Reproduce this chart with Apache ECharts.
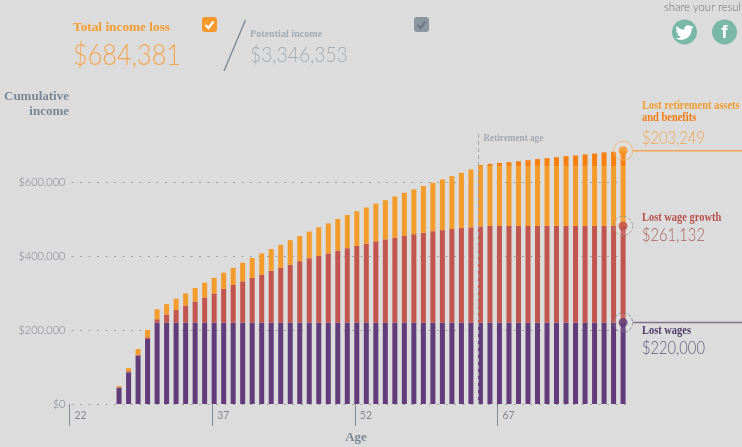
<!DOCTYPE html>
<html>
<head>
<meta charset="utf-8">
<style>
  html, body { margin: 0; padding: 0; background: #dcdcdc; overflow: hidden; }
  #chart { width: 742px; height: 447px; }
</style>
<script src="https://cdn.jsdelivr.net/npm/echarts@6/dist/echarts.min.js"></script>
</head>
<body>
<div id="chart"></div>
<script>
// ages 27 to 80, one bar per year
const ages = ['27','28','29','30','31','32','33','34','35','36','37','38','39','40','41','42','43','44','45','46','47','48','49','50','51','52','53','54','55','56','57','58','59','60','61','62','63','64','65','66','67','68','69','70','71','72','73','74','75','76','77','78','79','80'];
const axisAges = ['22','23','24','25','26', ...ages, '81'];
const ageTicks = [22, 37, 52, 67];
const retirementAge = 65;

const lostWages = [44000,85600,130600,175700,220000,220000,220000,220000,220000,220000,220000,220000,220000,220000,220000,220000,220000,220000,220000,220000,220000,220000,220000,220000,220000,220000,220000,220000,220000,220000,220000,220000,220000,220000,220000,220000,220000,220000,220000,220000,220000,220000,220000,220000,220000,220000,220000,220000,220000,220000,220000,220000,220000,220000];
const lostWageGrowth = [1000,3000,2700,4500,9000,22000,34000,46000,57000,68000,79000,91000,101600,111600,120500,130000,140000,147600,156500,166000,174000,180000,187000,194000,201000,207000,213000,220000,225000,229000,234000,239000,243000,247000,250000,253000,256000,257500,260000,261132,261132,261132,261132,261132,261132,261132,261132,261132,261132,261132,261132,261132,261132,261132];
const lostAssets = [3600,8400,15300,20000,27000,28000,30600,33000,36500,40000,42000,44000,46400,50400,54000,57000,59000,62400,66500,68000,72000,77500,81000,86000,90000,94000,98000,101500,106000,112000,117000,121000,126000,131000,137000,143000,149000,156500,163000,161868,161868,161868,161868,161868,161868,161868,161868,161868,161868,161868,161868,161868,161868,161868];
const lostBenefits = [0,0,0,0,0,0,0,0,0,0,0,0,0,0,0,0,0,0,0,0,0,0,0,0,0,0,0,0,0,0,0,0,0,0,0,0,0,0,3000,6000,8500,10500,13000,16000,19000,21500,24000,27000,28500,31500,34000,37000,38500,41381];
const markerValues = [220000, 481132, 684381];
const markerColors = ['#5f3a78', '#bd4f4a', '#f7941d'];
const ringColors = ['#77778a', '#9a8a8a', '#f3b26c'];

const lastAge = ages[ages.length - 1];
const serif = '"Liberation Serif", serif';
const light = 'Lato, sans-serif';

function barSeries(name, values, color) {
  return {
    name: name,
    type: 'bar',
    stack: 'loss',
    barWidth: 5,
    data: values.map((v, i) => [ages[i], v]),
    itemStyle: { color: color }
  };
}
function txt(text, x, y, font, fill, align, sx) {
  return {
    type: 'text',
    silent: true,
    x: x,
    y: y,
    scaleX: sx || 1,
    style: { text: text, font: font, fill: fill, textAlign: align || 'left', textVerticalAlign: 'middle' }
  };
}
function seg(x1, y1, x2, y2, color, width) {
  return { type: 'line', silent: true, shape: { x1: x1, y1: y1, x2: x2, y2: y2 }, style: { stroke: color, lineWidth: width } };
}
function checkbox(x, y, boxColor, checkColor) {
  return [
    { type: 'rect', silent: true, shape: { x: x, y: y, width: 15, height: 15, r: 3 }, style: { fill: boxColor } },
    { type: 'polyline', silent: true, shape: { points: [[x + 3.5, y + 8], [x + 6.5, y + 11], [x + 11.5, y + 4.5]] }, style: { stroke: checkColor, lineWidth: 2.4, fill: null } }
  ];
}

// twitter bird for the share button
echarts.graphic.registerShape('twitterBird', echarts.graphic.extendPath(
  'M 24 4.6 C 23.1 5 22.1 5.2 21.1 5.3 C 22.2 4.7 23 3.7 23.3 2.6 C 22.3 3.2 21.3 3.6 20.2 3.8 C 19.3 2.8 18 2.2 16.6 2.2 C 13.9 2.2 11.7 4.4 11.7 7.1 C 11.7 7.5 11.7 7.9 11.8 8.2 C 7.7 8 4.1 6.1 1.6 3.2 C 1.2 3.9 1 4.7 1 5.6 C 1 7.3 1.9 8.8 3.2 9.7 C 2.4 9.7 1.6 9.5 0.9 9.1 L 0.9 9.2 C 0.9 11.6 2.6 13.6 4.9 14 C 4.2 14.2 3.4 14.2 2.7 14.1 C 3.3 16.1 5.1 17.5 7.3 17.5 C 5.6 18.8 3.5 19.6 1.2 19.6 C 0.8 19.6 0.4 19.6 0 19.5 C 2.2 20.9 4.8 21.7 7.6 21.7 C 16.6 21.7 21.6 14.2 21.6 7.7 L 21.5 7.1 C 22.5 6.4 23.4 5.5 24 4.6 Z',
  {}
));

const chart = echarts.init(document.getElementById('chart'));
chart.setOption({
  animation: false,
  backgroundColor: '#dcdcdc',
  // bars sit 2px right of the age ticks, so ticks get their own grid
  grid: [
    { left: 71.5, top: 108, width: 561.1, height: 296 },
    { left: 69.5, top: 108, width: 561.1, height: 296 }
  ],
  xAxis: [
    {
      type: 'category',
      gridIndex: 0,
      data: axisAges,
      boundaryGap: false,
      axisLine: { show: false },
      axisTick: { show: false },
      axisLabel: { show: false },
      splitLine: { show: false }
    },
    {
      type: 'value',
      gridIndex: 1,
      min: 22,
      max: 81,
      splitLine: { show: false },
      axisLine: { show: false },
      axisTick: { show: true, length: 22, customValues: ageTicks, lineStyle: { color: '#858b94', width: 1 } },
      axisLabel: {
        customValues: ageTicks,
        margin: 6,
        align: 'left',
        padding: [0, 0, 0, 5],
        color: '#85888f',
        fontSize: 10.5,
        fontFamily: light
      }
    }
  ],
  yAxis: [
    {
      type: 'value',
      gridIndex: 0,
      min: 0,
      max: 800000,
      interval: 200000,
      axisLine: { show: false },
      axisTick: { show: false },
      splitLine: { showMaxLine: false, lineStyle: { color: '#a0a0a0', type: [2, 6.5], width: 1 } },
      axisLabel: {
        showMaxLabel: false,
        margin: 6,
        color: '#82868f',
        fontSize: 11,
        fontFamily: light,
        fontWeight: 300,
        formatter: v => '$' + v.toLocaleString('en-US')
      }
    },
    { type: 'value', gridIndex: 1, min: 0, max: 800000, show: false }
  ],
  series: [
    barSeries('Lost wages', lostWages, '#623b7b'),
    barSeries('Lost wage growth', lostWageGrowth, '#c2564e'),
    barSeries('Lost retirement assets', lostAssets, '#f39c2b'),
    barSeries('Benefits', lostBenefits, '#f77f0f'),
    {
      // retirement age marker
      type: 'line',
      xAxisIndex: 1,
      yAxisIndex: 1,
      data: [],
      markLine: {
        silent: true,
        symbol: 'none',
        label: { show: false },
        lineStyle: { color: '#a2a5aa', type: [4, 3], width: 1 },
        data: [[{ coord: [retirementAge, 0] }, { coord: [retirementAge, 735000] }]]
      }
    },
    {
      // rings round the end of each band
      type: 'scatter',
      symbolSize: 19,
      z: 5,
      silent: true,
      data: markerValues.map((v, i) => ({
        value: [lastAge, v],
        itemStyle: {
          color: 'rgba(255,255,255,0.12)',
          borderWidth: 1,
          borderType: i === 2 ? 'solid' : [3, 2],
          borderColor: ringColors[i]
        }
      }))
    },
    {
      type: 'scatter',
      symbolSize: 9,
      z: 6,
      silent: true,
      data: markerValues.map((v, i) => ({ value: [lastAge, v], itemStyle: { color: markerColors[i] } }))
    }
  ]
});

// the leader lines run out past the grid, so they go in once the scales exist
const topPt = chart.convertToPixel({ xAxisIndex: 0, yAxisIndex: 0 }, [lastAge, markerValues[2]]);
const botPt = chart.convertToPixel({ xAxisIndex: 0, yAxisIndex: 0 }, [lastAge, markerValues[0]]);
const retPt = chart.convertToPixel({ xAxisIndex: 1, yAxisIndex: 1 }, [retirementAge, 735000]);

chart.setOption({
  graphic: [
    txt('Total income loss', 73, 28, 'bold 13.3px ' + serif, '#f39c2f'),
    txt('$684,381', 73, 56, '300 29px ' + light, '#f3a650', 'left', 0.87),
    ...checkbox(202, 17, '#f5992a', '#ffffff'),
    seg(245.5, 20, 224, 71, '#7a8490', 1.3),
    txt('Potential income', 250, 34, 'bold 11px ' + serif, '#a3adb5', 'left', 0.92),
    txt('$3,346,353', 250, 55, '300 22px ' + light, '#a3adb5', 'left', 0.875),
    ...checkbox(414, 17, '#8b96a1', '#6f7883'),
    txt('Cumulative', 69, 97, 'bold 13px ' + serif, '#7a8696', 'right'),
    txt('income', 69, 112, 'bold 13px ' + serif, '#7a8696', 'right'),
    txt('share your result:', 664, 7, '300 12.5px ' + light, '#6f6f6f', 'left', 0.9),
    { type: 'circle', silent: true, shape: { cx: 684.5, cy: 32, r: 12.5 }, style: { fill: '#7ab8a6' } },
    { type: 'circle', silent: true, shape: { cx: 724.5, cy: 32, r: 12.5 }, style: { fill: '#7ab8a6' } },
    { type: 'twitterBird', silent: true, x: 675.5, y: 23.5, scaleX: 0.75, scaleY: 0.75, style: { fill: '#ffffff' } },
    txt('f', 724.5, 33, 'bold 19px "Liberation Sans", sans-serif', '#ffffff', 'center'),
    txt('Retirement age', retPt[0] + 5, 138, 'bold 10px ' + serif, '#a3a9b0', 'left', 0.92),
    seg(topPt[0] + 10, topPt[1], 742, topPt[1], '#f3a650', 1.5),
    seg(botPt[0] + 10, botPt[1], 742, botPt[1], '#7f7190', 1.5),
    txt('Lost retirement assets', 642, 106, 'bold 12px ' + serif, '#f39c2f', 'left', 0.87),
    txt('and benefits', 642, 118, 'bold 12px ' + serif, '#f57c10', 'left', 0.87),
    txt('$203,249', 642, 138, '300 17.5px ' + light, '#f3a650', 'left', 0.84),
    txt('Lost wage growth', 642, 218, 'bold 12px ' + serif, '#b84f4b', 'left', 0.87),
    txt('$261,132', 642, 235, '300 17.5px ' + light, '#a85f5f', 'left', 0.84),
    txt('Lost wages', 642, 331, 'bold 12px ' + serif, '#4f3a68', 'left', 0.87),
    txt('$220,000', 642, 348, '300 17.5px ' + light, '#5e5a78', 'left', 0.84),
    txt('Age', 356, 438, 'bold 13px ' + serif, '#7a8696', 'center')
  ]
});
</script>
</body>
</html>
